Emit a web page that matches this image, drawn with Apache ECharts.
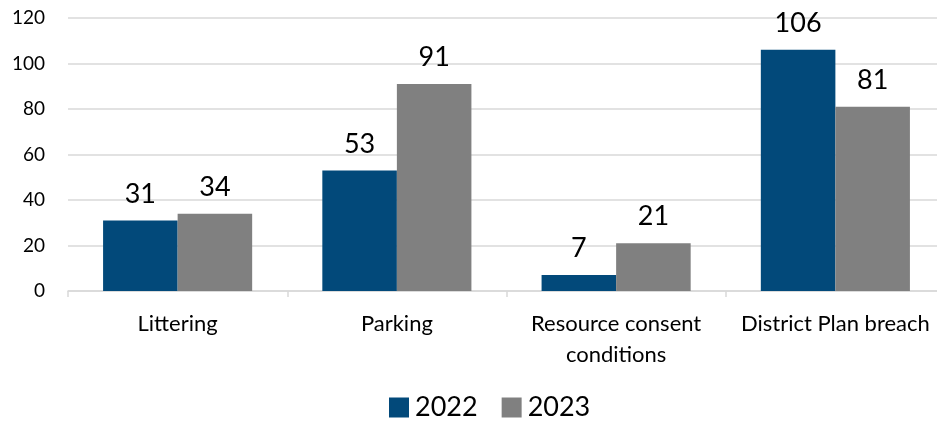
<!DOCTYPE html>
<html>
<head>
<meta charset="utf-8">
<script src="https://cdn.jsdelivr.net/npm/echarts@6/dist/echarts.min.js"></script>
<style>
  html, body { margin: 0; padding: 0; background: #ffffff; }
  #chart { width: 937px; height: 427px; }
</style>
</head>
<body>
<div id="chart"></div>
<script>
// Categories and yearly counts
const categories = ['Littering', 'Parking', 'Resource consent\nconditions', 'District Plan breach'];
const values2022 = [31, 53, 7, 106];
const values2023 = [34, 91, 21, 81];
const yTicks = { min: 0, max: 120, interval: 20 };

const FONT = 'Lato, "Open Sans", sans-serif';

const chart = echarts.init(document.getElementById('chart'), null, { renderer: 'canvas' });

const labelStyle = {
  show: true,
  position: 'top',
  distance: 13,
  fontFamily: FONT,
  fontSize: 27,
  color: '#000000'
};

chart.setOption({
  animation: false,
  textStyle: { fontFamily: FONT },
  // plot area runs slightly past the right edge of the canvas
  grid: {
    left: 68, width: 877, top: 18, bottom: 136,
    containLabel: false,
    outerBoundsMode: 'none'
  },
  legend: {
    bottom: 1,
    left: 384,
    itemWidth: 20,
    itemHeight: 20,
    itemGap: 24,
    icon: 'rect',
    textStyle: { fontFamily: FONT, fontSize: 27, color: '#000000', padding: [0, 0, 0, 1] },
    data: ['2022', '2023']
  },
  xAxis: {
    type: 'category',
    data: categories,
    axisLine: { lineStyle: { color: '#D9D9D9', width: 1.5 } },
    axisTick: { show: true, length: 6, lineStyle: { color: '#D9D9D9', width: 1.5 } },
    axisLabel: {
      margin: 17,
      fontFamily: FONT,
      fontSize: 22,
      color: '#000000',
      lineHeight: 31,
      interval: 0
    }
  },
  yAxis: {
    type: 'value',
    min: yTicks.min,
    max: yTicks.max,
    interval: yTicks.interval,
    axisLine: { show: false },
    axisTick: { show: false },
    splitLine: { lineStyle: { color: '#D9D9D9', width: 1.5 } },
    axisLabel: { margin: 23, fontFamily: FONT, fontSize: 19, color: '#000000' }
  },
  series: [
    {
      name: '2022',
      type: 'bar',
      data: values2022,
      barGap: '0%',
      barCategoryGap: '32%',
      itemStyle: { color: '#02497A' },
      label: labelStyle
    },
    {
      name: '2023',
      type: 'bar',
      data: values2023,
      barGap: '0%',
      barCategoryGap: '32%',
      itemStyle: { color: '#808080' },
      label: labelStyle
    }
  ]
});
</script>
</body>
</html>
